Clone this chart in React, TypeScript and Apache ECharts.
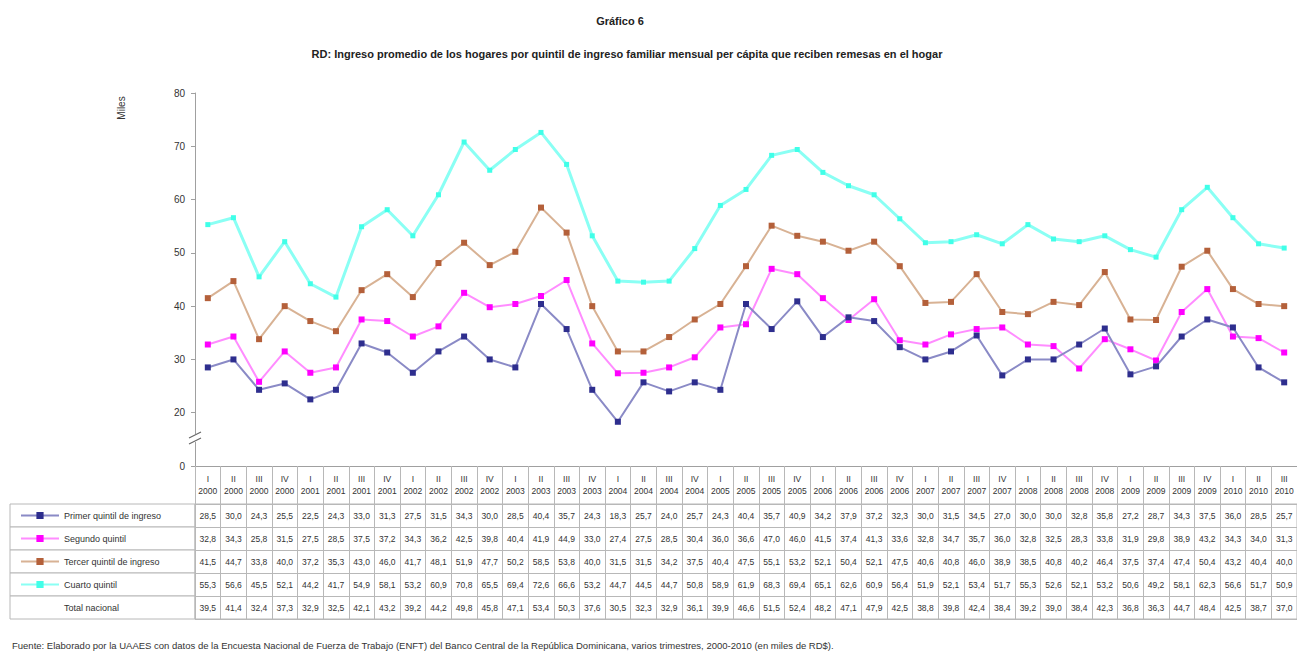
import React, { useEffect, useRef } from "react";
import * as echarts from "echarts";

const categories = [
  "I-2000", "II-2000", "III-2000", "IV-2000",
  "I-2001", "II-2001", "III-2001", "IV-2001",
  "I-2002", "II-2002", "III-2002", "IV-2002",
  "I-2003", "II-2003", "III-2003", "IV-2003",
  "I-2004", "II-2004", "III-2004", "IV-2004",
  "I-2005", "II-2005", "III-2005", "IV-2005",
  "I-2006", "II-2006", "III-2006", "IV-2006",
  "I-2007", "II-2007", "III-2007", "IV-2007",
  "I-2008", "II-2008", "III-2008", "IV-2008",
  "I-2009", "II-2009", "III-2009", "IV-2009",
  "I-2010", "II-2010", "III-2010",
];

const seriesNames = [
  "Primer quintil de ingreso",
  "Segundo quintil",
  "Tercer quintil de ingreso",
  "Cuarto quintil",
  "Total nacional",
];

const quintil1 = [28.5, 30.0, 24.3, 25.5, 22.5, 24.3, 33.0, 31.3, 27.5, 31.5, 34.3, 30.0, 28.5, 40.4, 35.7, 24.3, 18.3, 25.7, 24.0, 25.7, 24.3, 40.4, 35.7, 40.9, 34.2, 37.9, 37.2, 32.3, 30.0, 31.5, 34.5, 27.0, 30.0, 30.0, 32.8, 35.8, 27.2, 28.7, 34.3, 37.5, 36.0, 28.5, 25.7];
const quintil2 = [32.8, 34.3, 25.8, 31.5, 27.5, 28.5, 37.5, 37.2, 34.3, 36.2, 42.5, 39.8, 40.4, 41.9, 44.9, 33.0, 27.4, 27.5, 28.5, 30.4, 36.0, 36.6, 47.0, 46.0, 41.5, 37.4, 41.3, 33.6, 32.8, 34.7, 35.7, 36.0, 32.8, 32.5, 28.3, 33.8, 31.9, 29.8, 38.9, 43.2, 34.3, 34.0, 31.3];
const quintil3 = [41.5, 44.7, 33.8, 40.0, 37.2, 35.3, 43.0, 46.0, 41.7, 48.1, 51.9, 47.7, 50.2, 58.5, 53.8, 40.0, 31.5, 31.5, 34.2, 37.5, 40.4, 47.5, 55.1, 53.2, 52.1, 50.4, 52.1, 47.5, 40.6, 40.8, 46.0, 38.9, 38.5, 40.8, 40.2, 46.4, 37.5, 37.4, 47.4, 50.4, 43.2, 40.4, 40.0];
const quintil4 = [55.3, 56.6, 45.5, 52.1, 44.2, 41.7, 54.9, 58.1, 53.2, 60.9, 70.8, 65.5, 69.4, 72.6, 66.6, 53.2, 44.7, 44.5, 44.7, 50.8, 58.9, 61.9, 68.3, 69.4, 65.1, 62.6, 60.9, 56.4, 51.9, 52.1, 53.4, 51.7, 55.3, 52.6, 52.1, 53.2, 50.6, 49.2, 58.1, 62.3, 56.6, 51.7, 50.9];
const totalNacional = [39.5, 41.4, 32.4, 37.3, 32.9, 32.5, 42.1, 43.2, 39.2, 44.2, 49.8, 45.8, 47.1, 53.4, 50.3, 37.6, 30.5, 32.3, 32.9, 36.1, 39.9, 46.6, 51.5, 52.4, 48.2, 47.1, 47.9, 42.5, 38.8, 39.8, 42.4, 38.4, 39.2, 39.0, 38.4, 42.3, 36.8, 36.3, 44.7, 48.4, 42.5, 38.7, 37.0];

// broken axis: the lowest tick (10) is shown as "0"
const yTicks = { min: 10, max: 80, interval: 10, brokenLabel: "0" };

const FONT = "'Liberation Sans', Arial, sans-serif";

export default function App() {
  const ref = useRef<HTMLDivElement>(null);

  useEffect(() => {
    if (!ref.current) return;
    const chart = echarts.init(ref.current, null, { renderer: "svg" });

    const allSeries = [quintil1, quintil2, quintil3, quintil4, totalNacional];
    const markerColors = ["#2E2E8E", "#FF00FF", "#B4603A", "#40FFE8", "#FFFFFF"];
    const lineColors = ["#8A8AC6", "#FF8CFF", "#D8B294", "#8AFFF4", "#FFFFFF"];
    const lineWidths = [2, 2, 2, 3, 2];

    const tableData: number[][] = [];
    allSeries.forEach((arr, r) => arr.forEach((v, c) => tableData.push([c, r, v])));
    const fmt = (v: number) => v.toFixed(1).replace(".", ",");

    const ROW_H = 23;
    const TABLE_TOP = 504;
    const GRID_LEFT = 195;
    const GRID_W = 1108;
    const PLOT_TOP = 93;
    const PLOT_H = 373;

    const rowHeaderRects = seriesNames.map((_, r) => ({
      type: "rect",
      shape: { x: 10, y: TABLE_TOP + r * ROW_H, width: GRID_LEFT - 10, height: ROW_H },
      style: { fill: "#ffffff", stroke: "#b8b8b8", lineWidth: 1 },
      z: -1,
    }));

    const lineSeries = allSeries.map((arr, i) => ({
      name: seriesNames[i],
      type: "line",
      xAxisIndex: 0,
      yAxisIndex: 0,
      data: arr,
      symbol: "rect",
      symbolSize: i === 3 ? 5 : 6,
      showSymbol: i !== 4,
      itemStyle: { color: markerColors[i] },
      lineStyle: { color: lineColors[i], width: lineWidths[i] },
      z: i === 4 ? 1 : 3 + (3 - i),
      silent: true,
    }));

    const legends = seriesNames.map((n, r) => ({
      data: [n],
      orient: "vertical",
      left: 20,
      top: TABLE_TOP + r * ROW_H + 7,
      padding: 0,
      itemWidth: 38,
      itemHeight: 9,
      selectedMode: false,
      textStyle: { fontSize: 9, color: "#333", fontFamily: FONT },
    }));

    const breakY = PLOT_TOP + PLOT_H - 26;

    const option: any = {
      animation: false,
      textStyle: { fontFamily: FONT },
      grid: [
        { left: GRID_LEFT, top: PLOT_TOP, width: GRID_W, height: PLOT_H },
        {
          left: GRID_LEFT,
          top: TABLE_TOP,
          width: GRID_W,
          height: ROW_H * seriesNames.length,
          show: true,
          borderColor: "#b8b8b8",
          borderWidth: 1,
        },
      ],
      xAxis: [
        {
          type: "category",
          gridIndex: 0,
          data: categories,
          boundaryGap: true,
          axisLine: { lineStyle: { color: "#a0a0a0" } },
          axisTick: { show: true, interval: 0, length: 38, lineStyle: { color: "#b8b8b8" } },
          axisLabel: {
            interval: 0,
            fontSize: 8.5,
            lineHeight: 12,
            margin: 7,
            color: "#333",
            fontFamily: FONT,
            formatter: (v: string) => v.replace("-", "\n"),
          },
        },
        {
          type: "category",
          gridIndex: 1,
          data: categories,
          boundaryGap: true,
          axisLine: { show: false },
          axisTick: { show: false },
          axisLabel: { show: false },
          splitLine: { show: true, interval: 0, lineStyle: { color: "#b8b8b8" } },
        },
      ],
      yAxis: [
        {
          type: "value",
          gridIndex: 0,
          min: yTicks.min,
          max: yTicks.max,
          interval: yTicks.interval,
          axisLine: { show: true, lineStyle: { color: "#a0a0a0" } },
          axisTick: { show: true, length: 4, lineStyle: { color: "#a0a0a0" } },
          splitLine: { show: false },
          axisLabel: {
            fontSize: 10,
            color: "#333",
            margin: 10,
            fontFamily: FONT,
            formatter: (v: number) => (v === yTicks.min ? yTicks.brokenLabel : String(v)),
          },
        },
        {
          type: "category",
          gridIndex: 1,
          data: seriesNames,
          inverse: true,
          axisLine: { show: false },
          axisTick: { show: false },
          axisLabel: { show: false },
          splitLine: { show: true, interval: 0, lineStyle: { color: "#b8b8b8" } },
        },
      ],
      legend: legends,
      graphic: [
        ...rowHeaderRects,
        {
          type: "rect",
          shape: { x: GRID_LEFT - 6, y: breakY - 6, width: 12, height: 8 },
          style: { fill: "#ffffff" },
          z: 10,
        },
        {
          type: "line",
          shape: { x1: GRID_LEFT - 6, y1: breakY - 2, x2: GRID_LEFT + 6, y2: breakY - 8 },
          style: { stroke: "#666", lineWidth: 1.2 },
          z: 11,
        },
        {
          type: "line",
          shape: { x1: GRID_LEFT - 6, y1: breakY + 4, x2: GRID_LEFT + 6, y2: breakY - 2 },
          style: { stroke: "#666", lineWidth: 1.2 },
          z: 11,
        },
        {
          type: "text",
          x: 620,
          y: 21,
          style: { text: "Gráfico 6", fill: "#222", font: `bold 11px ${FONT}`, textAlign: "center", textVerticalAlign: "middle", align: "center", verticalAlign: "middle" },
        },
        {
          type: "text",
          x: 627,
          y: 54,
          style: {
            text: "RD: Ingreso promedio de los hogares por quintil de ingreso familiar mensual per cápita que reciben remesas en el hogar",
            fill: "#222",
            font: `bold 11px ${FONT}`,
            textAlign: "center",
            textVerticalAlign: "middle",
            align: "center",
            verticalAlign: "middle",
          },
        },
        {
          type: "text",
          x: 121,
          y: 108,
          rotation: Math.PI / 2,
          style: { text: "Miles", fill: "#333", font: `10px ${FONT}`, textAlign: "center", textVerticalAlign: "middle", align: "center", verticalAlign: "middle" },
        },
        {
          type: "text",
          x: 12,
          y: 645,
          style: {
            text: "Fuente: Elaborado por la UAAES con datos de la Encuesta Nacional de Fuerza de Trabajo (ENFT) del Banco Central de la República Dominicana, varios trimestres, 2000-2010 (en miles de RD$).",
            fill: "#333",
            font: `9.5px ${FONT}`,
            textAlign: "left",
            textVerticalAlign: "middle",
            align: "left",
            verticalAlign: "middle",
          },
        },
      ],
      series: [
        ...lineSeries,
        {
          name: "tabla",
          type: "custom",
          coordinateSystem: "cartesian2d",
          xAxisIndex: 1,
          yAxisIndex: 1,
          data: tableData,
          silent: true,
          renderItem: (_params: any, api: any) => {
            const pt = api.coord([api.value(0), api.value(1)]);
            return {
              type: "text",
              x: pt[0],
              y: pt[1],
              style: {
                text: fmt(api.value(2)),
                fill: "#333",
                font: `8.5px ${FONT}`,
                textAlign: "center",
                textVerticalAlign: "middle",
                align: "center",
                verticalAlign: "middle",
              },
            };
          },
        },
      ],
    };

    chart.setOption(option);
    return () => chart.dispose();
  }, []);

  return (
    <div
      ref={ref}
      style={{ position: "fixed", left: 0, top: 0, width: 1297, height: 653, background: "#ffffff" }}
    />
  );
}
